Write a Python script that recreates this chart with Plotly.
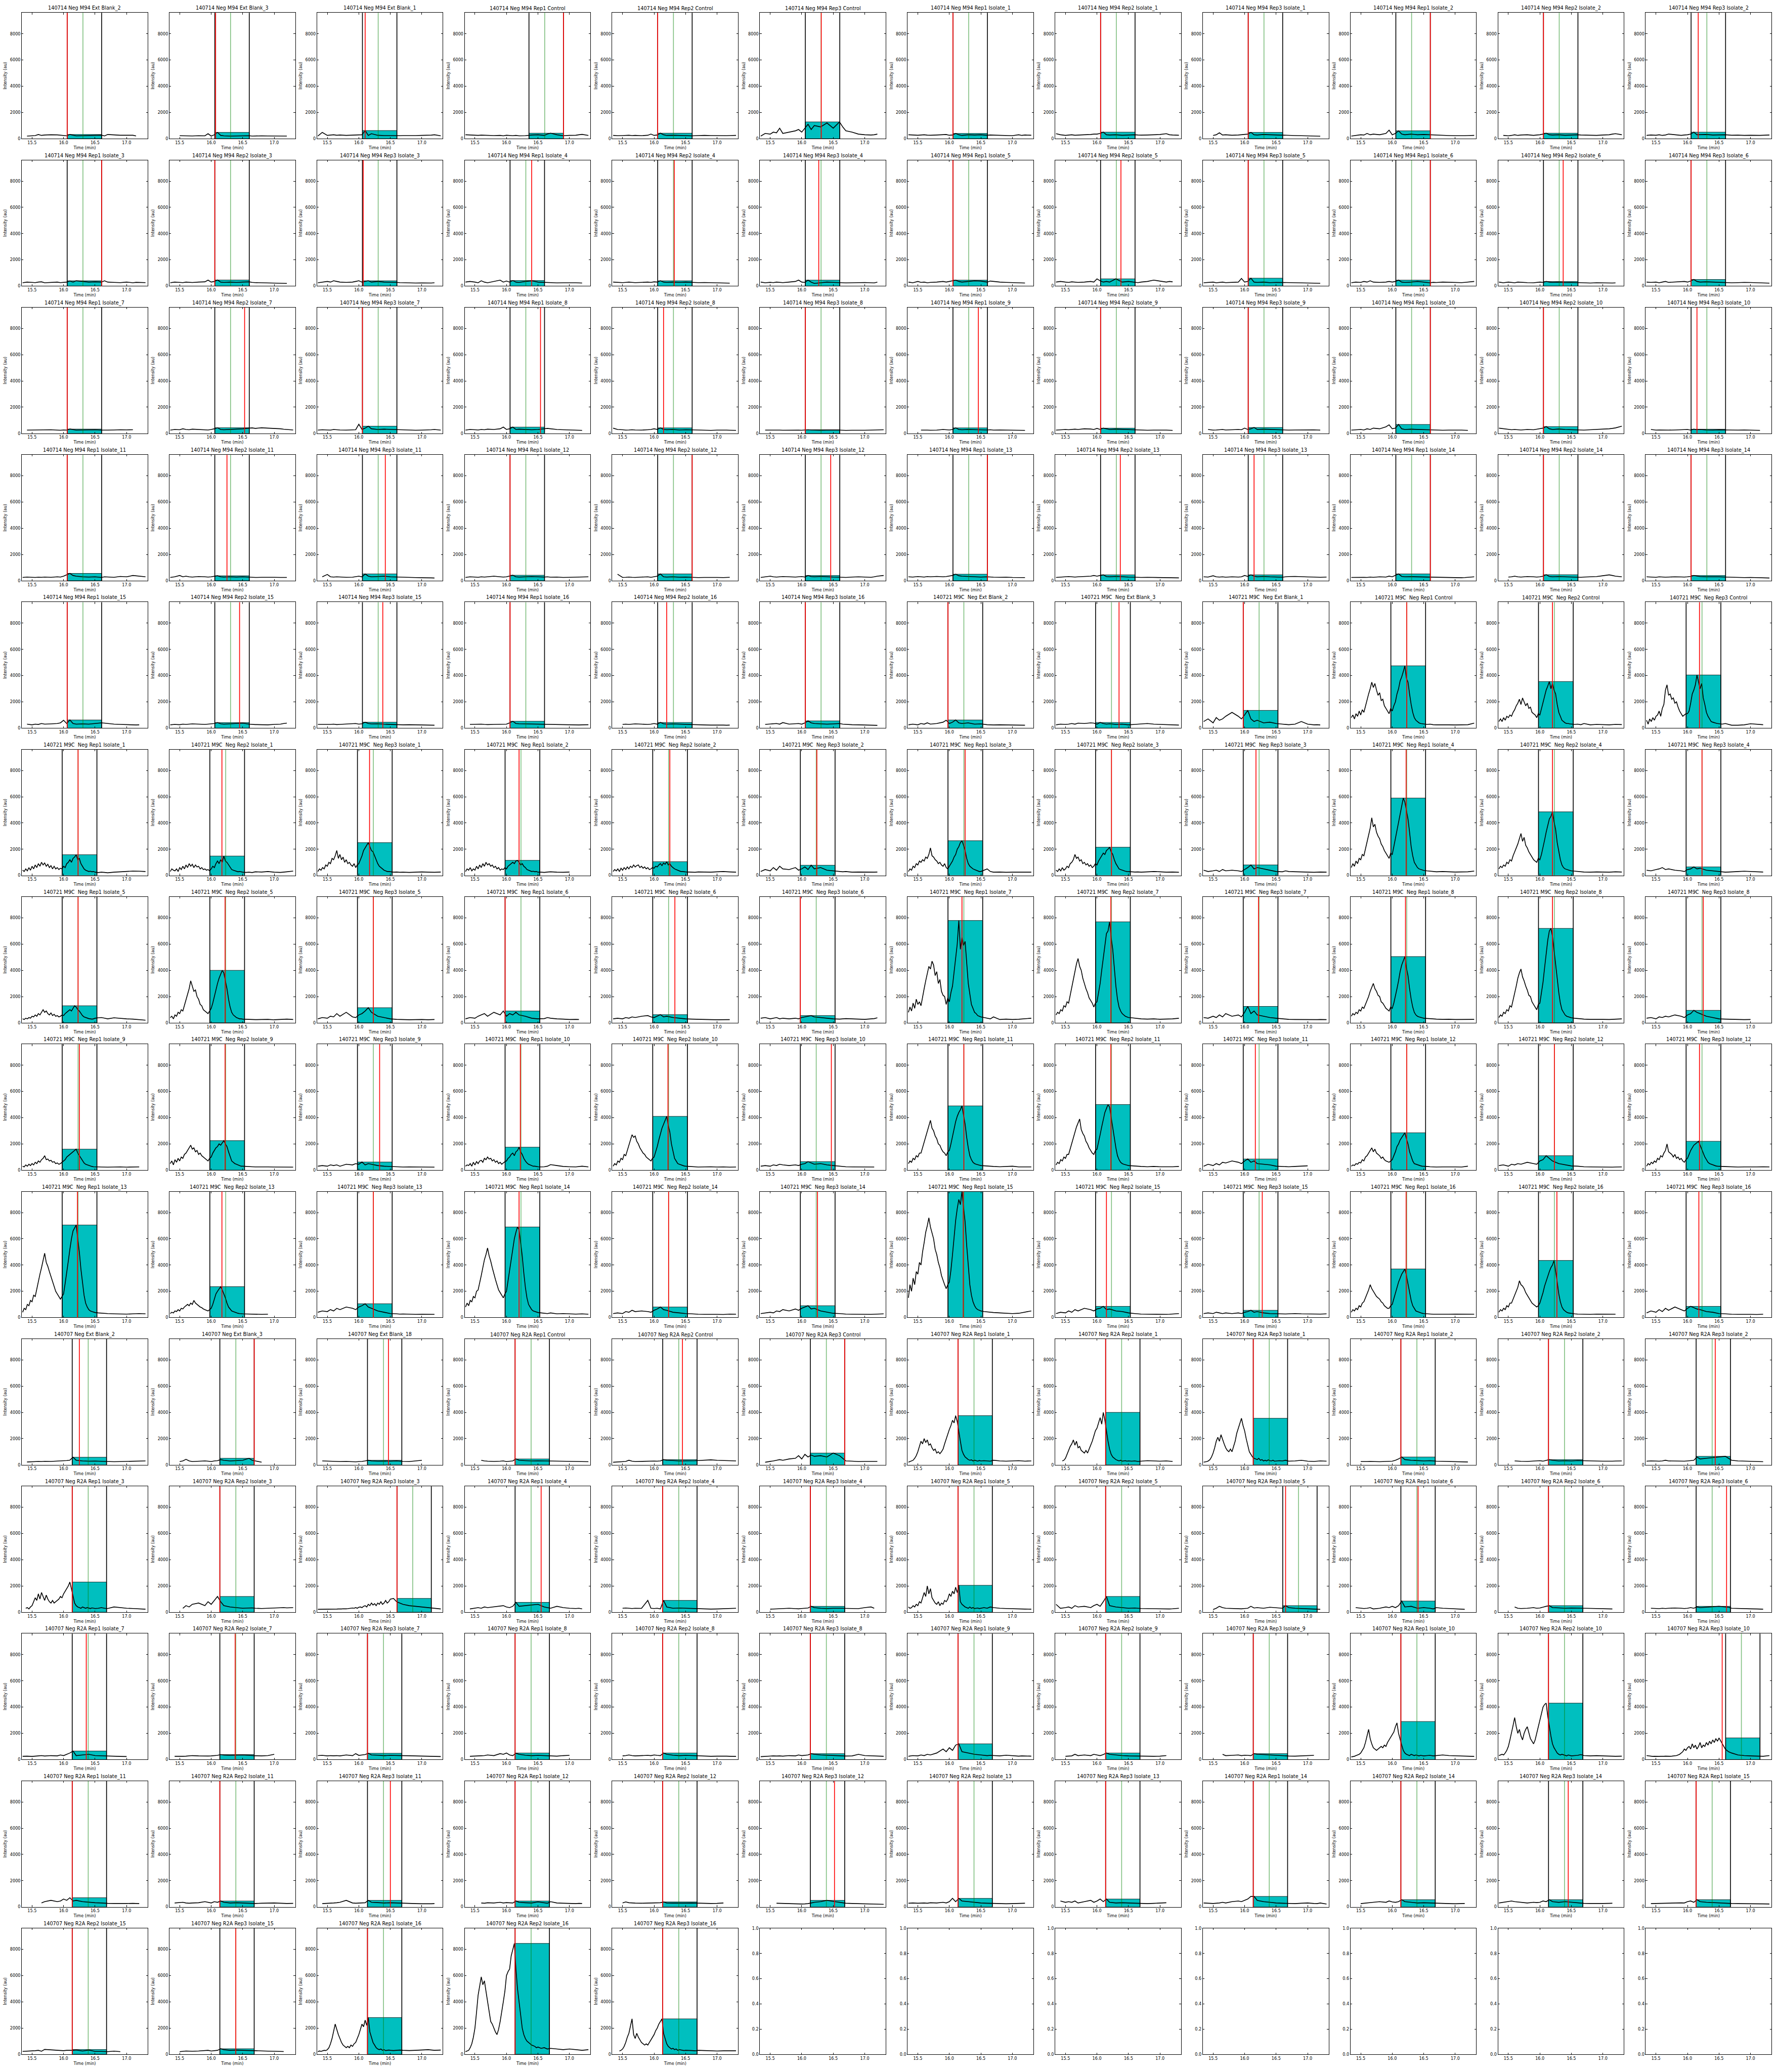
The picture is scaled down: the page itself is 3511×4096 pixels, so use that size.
import plotly.graph_objects as go

# ---------------- sampling grids of the chromatograms (min) ----------------
T_F = [15.35, 15.42, 15.5, 15.55, 15.6, 15.65, 15.7, 15.8, 15.9, 15.95, 16.0, 16.05, 16.1, 16.15,
       16.2, 16.3, 16.4, 16.5, 16.6, 16.65, 16.7, 16.8, 16.9, 17.0, 17.1, 17.15, 17.2, 17.3]
T_D = [15.35, 15.375, 15.4, 15.425, 15.45, 15.475, 15.5, 15.525, 15.55, 15.575,
       15.6, 15.625, 15.65, 15.675, 15.7, 15.725, 15.75, 15.775, 15.8, 15.825,
       15.85, 15.875, 15.9, 15.925, 15.95, 15.975, 16.0, 16.025, 16.05, 16.075,
       16.1, 16.125, 16.15, 16.175, 16.2, 16.225, 16.25, 16.275, 16.3, 16.325,
       16.35, 16.375, 16.4, 16.425, 16.45, 16.475, 16.5,
       16.55, 16.6, 16.65, 16.7, 16.8, 16.9, 17.0, 17.1, 17.2, 17.3]

# ---------------- titles ----------------
P94 = "140714 Neg M94 "
P9C = "140721 M9C\u00a0 Neg "
P2A = "140707 Neg "
m94_names = ["Ext Blank_2", "Ext Blank_3", "Ext Blank_1", "Rep1 Control", "Rep2 Control", "Rep3 Control",
             "Rep1 Isolate_1", "Rep2 Isolate_1", "Rep3 Isolate_1", "Rep1 Isolate_2", "Rep2 Isolate_2", "Rep3 Isolate_2",
             "Rep1 Isolate_3", "Rep2 Isolate_3", "Rep3 Isolate_3", "Rep1 Isolate_4", "Rep2 Isolate_4", "Rep3 Isolate_4",
             "Rep1 Isolate_5", "Rep2 Isolate_5", "Rep3 Isolate_5", "Rep1 Isolate_6", "Rep2 Isolate_6", "Rep3 Isolate_6",
             "Rep1 Isolate_7", "Rep2 Isolate_7", "Rep3 Isolate_7", "Rep1 Isolate_8", "Rep2 Isolate_8", "Rep3 Isolate_8",
             "Rep1 Isolate_9", "Rep2 Isolate_9", "Rep3 Isolate_9", "Rep1 Isolate_10", "Rep2 Isolate_10", "Rep3 Isolate_10",
             "Rep1 Isolate_11", "Rep2 Isolate_11", "Rep3 Isolate_11", "Rep1 Isolate_12", "Rep2 Isolate_12", "Rep3 Isolate_12",
             "Rep1 Isolate_13", "Rep2 Isolate_13", "Rep3 Isolate_13", "Rep1 Isolate_14", "Rep2 Isolate_14", "Rep3 Isolate_14",
             "Rep1 Isolate_15", "Rep2 Isolate_15", "Rep3 Isolate_15", "Rep1 Isolate_16", "Rep2 Isolate_16", "Rep3 Isolate_16"]
r2a_names = ["Ext Blank_2", "Ext Blank_3", "Ext Blank_18", "R2A Rep1 Control", "R2A Rep2 Control", "R2A Rep3 Control",
             "R2A Rep1 Isolate_1", "R2A Rep2 Isolate_1", "R2A Rep3 Isolate_1", "R2A Rep1 Isolate_2", "R2A Rep2 Isolate_2", "R2A Rep3 Isolate_2",
             "R2A Rep1 Isolate_3", "R2A Rep2 Isolate_3", "R2A Rep3 Isolate_3", "R2A Rep1 Isolate_4", "R2A Rep2 Isolate_4", "R2A Rep3 Isolate_4",
             "R2A Rep1 Isolate_5", "R2A Rep2 Isolate_5", "R2A Rep3 Isolate_5", "R2A Rep1 Isolate_6", "R2A Rep2 Isolate_6", "R2A Rep3 Isolate_6",
             "R2A Rep1 Isolate_7", "R2A Rep2 Isolate_7", "R2A Rep3 Isolate_7", "R2A Rep1 Isolate_8", "R2A Rep2 Isolate_8", "R2A Rep3 Isolate_8",
             "R2A Rep1 Isolate_9", "R2A Rep2 Isolate_9", "R2A Rep3 Isolate_9", "R2A Rep1 Isolate_10", "R2A Rep2 Isolate_10", "R2A Rep3 Isolate_10",
             "R2A Rep1 Isolate_11", "R2A Rep2 Isolate_11", "R2A Rep3 Isolate_11", "R2A Rep1 Isolate_12", "R2A Rep2 Isolate_12", "R2A Rep3 Isolate_12",
             "R2A Rep2 Isolate_13", "R2A Rep3 Isolate_13", "R2A Rep1 Isolate_14", "R2A Rep2 Isolate_14", "R2A Rep3 Isolate_14", "R2A Rep1 Isolate_15",
             "R2A Rep2 Isolate_15", "R2A Rep3 Isolate_15", "R2A Rep1 Isolate_16", "R2A Rep2 Isolate_16", "R2A Rep3 Isolate_16"]
titles = [P94 + n for n in m94_names] + [P9C + n for n in m94_names] + [P2A + n for n in r2a_names]

# ---------------- integration windows, markers, box heights (grid order) ----------------
win_left = [16.057, 16.057, 16.057, 16.357, 16.057, 16.057, 16.057, 16.057, 16.057, 16.057, 16.057, 16.057,
            16.057, 16.057, 16.057, 16.057, 16.057, 16.057, 16.057, 16.057, 16.057, 16.057, 16.057, 16.057,
            16.057, 16.057, 16.057, 16.057, 16.057, 16.057, 16.057, 16.057, 16.057, 16.057, 16.057, 16.057,
            16.057, 16.057, 16.057, 16.057, 16.057, 16.057, 16.057, 16.057, 16.057, 16.057, 16.057, 16.057,
            16.057, 16.057, 16.057, 16.057, 16.057, 16.057, 15.978, 15.978, 15.978, 15.978, 15.978, 15.978,
            15.978, 15.978, 15.978, 15.978, 15.978, 15.978, 15.978, 15.978, 15.978, 15.978, 15.978, 15.978,
            15.978, 15.978, 15.978, 15.978, 15.978, 15.978, 15.978, 15.978, 15.978, 15.978, 15.978, 15.978,
            15.978, 15.978, 15.978, 15.978, 15.978, 15.978, 15.978, 15.978, 15.978, 15.978, 15.978, 15.978,
            15.978, 15.978, 15.978, 15.978, 15.978, 15.978, 15.978, 15.978, 15.978, 15.978, 15.978, 15.978,
            16.137, 16.137, 16.137, 16.137, 16.137, 16.137, 16.137, 16.137, 16.137, 16.137, 16.137, 16.137,
            16.137, 16.137, 16.605, 16.137, 16.137, 16.137, 16.137, 16.137, 16.605, 16.137, 16.137, 16.137,
            16.137, 16.137, 16.137, 16.137, 16.137, 16.137, 16.137, 16.137, 16.137, 16.137, 16.137, 16.605,
            16.137, 16.137, 16.137, 16.137, 16.137, 16.137, 16.137, 16.137, 16.137, 16.137, 16.137, 16.137,
            16.137, 16.137, 16.137, 16.137, 16.137]
win_right = [16.604, 16.604, 16.604, 16.904, 16.604, 16.604, 16.604, 16.604, 16.604, 16.604, 16.604, 16.604,
             16.604, 16.604, 16.604, 16.604, 16.604, 16.604, 16.604, 16.604, 16.604, 16.604, 16.604, 16.604,
             16.604, 16.604, 16.604, 16.604, 16.604, 16.604, 16.604, 16.604, 16.604, 16.604, 16.604, 16.604,
             16.604, 16.604, 16.604, 16.604, 16.604, 16.604, 16.604, 16.604, 16.604, 16.604, 16.604, 16.604,
             16.604, 16.604, 16.604, 16.604, 16.604, 16.604, 16.529, 16.529, 16.529, 16.529, 16.529, 16.529,
             16.529, 16.529, 16.529, 16.529, 16.529, 16.529, 16.529, 16.529, 16.529, 16.529, 16.529, 16.529,
             16.529, 16.529, 16.529, 16.529, 16.529, 16.529, 16.529, 16.529, 16.529, 16.529, 16.529, 16.529,
             16.529, 16.529, 16.529, 16.529, 16.529, 16.529, 16.529, 16.529, 16.529, 16.529, 16.529, 16.529,
             16.529, 16.529, 16.529, 16.529, 16.529, 16.529, 16.529, 16.529, 16.529, 16.529, 16.529, 16.529,
             16.682, 16.682, 16.682, 16.682, 16.682, 16.682, 16.682, 16.682, 16.682, 16.682, 16.682, 16.682,
             16.682, 16.682, 17.15, 16.682, 16.682, 16.682, 16.682, 16.682, 17.15, 16.682, 16.682, 16.682,
             16.682, 16.682, 16.682, 16.682, 16.682, 16.682, 16.682, 16.682, 16.682, 16.682, 16.682, 17.15,
             16.682, 16.682, 16.682, 16.682, 16.682, 16.682, 16.682, 16.682, 16.682, 16.682, 16.682, 16.682,
             16.682, 16.682, 16.682, 16.682, 16.682]
green_t = [16.307, 16.307, 16.307, 16.607, 16.307, 16.307, 16.307, 16.307, 16.307, 16.307, 16.307, 16.307,
           16.307, 16.307, 16.307, 16.307, 16.307, 16.307, 16.307, 16.307, 16.307, 16.307, 16.307, 16.307,
           16.307, 16.307, 16.307, 16.307, 16.307, 16.307, 16.307, 16.307, 16.307, 16.307, 16.307, 16.307,
           16.307, 16.307, 16.307, 16.307, 16.307, 16.307, 16.307, 16.307, 16.307, 16.307, 16.307, 16.307,
           16.307, 16.307, 16.307, 16.307, 16.307, 16.307, 16.23, 16.23, 16.23, 16.23, 16.23, 16.23,
           16.23, 16.23, 16.23, 16.23, 16.23, 16.23, 16.23, 16.23, 16.23, 16.23, 16.23, 16.23,
           16.23, 16.23, 16.23, 16.23, 16.23, 16.23, 16.23, 16.23, 16.23, 16.23, 16.23, 16.23,
           16.23, 16.23, 16.23, 16.23, 16.23, 16.23, 16.23, 16.23, 16.23, 16.23, 16.23, 16.23,
           16.23, 16.23, 16.23, 16.23, 16.23, 16.23, 16.23, 16.23, 16.23, 16.23, 16.23, 16.23,
           16.391, 16.391, 16.391, 16.391, 16.391, 16.391, 16.391, 16.391, 16.391, 16.391, 16.391, 16.391,
           16.391, 16.391, 16.855, 16.391, 16.391, 16.391, 16.391, 16.391, 16.855, 16.391, 16.391, 16.391,
           16.391, 16.391, 16.391, 16.391, 16.391, 16.391, 16.391, 16.391, 16.391, 16.391, 16.391, 16.855,
           16.391, 16.391, 16.391, 16.391, 16.391, 16.391, 16.391, 16.391, 16.391, 16.391, 16.391, 16.391,
           16.391, 16.391, 16.391, 16.391, 16.391]
red_t = [16.057, 16.07, 16.10, 16.904, 16.057, 16.31, 16.057, 16.057, 16.057, 16.604, 16.057, 16.17,
         16.604, 16.057, 16.07, 16.40, 16.32, 16.27, 16.057, 16.38, 16.057, 16.604, 16.37, 16.057,
         16.057, 16.53, 16.057, 16.54, 16.15, 16.057, 16.46, 16.057, 16.057, 16.604, 16.057, 16.15,
         16.057, 16.25, 16.42, 16.057, 16.604, 16.46, 16.604, 16.37, 16.15, 16.604, 16.057, 16.057,
         16.057, 16.45, 16.38, 16.057, 16.20, 16.057, 15.978, 16.35, 15.978, 16.23, 16.20, 16.19,
         16.23, 16.17, 16.17, 16.20, 16.25, 16.24, 16.25, 16.23, 16.18, 16.22, 16.20, 16.23,
         16.23, 16.22, 16.23, 15.978, 16.33, 15.978, 16.20, 16.22, 16.22, 16.21, 16.20, 16.25,
         16.25, 16.22, 16.33, 16.22, 16.22, 16.47, 16.23, 16.22, 16.17, 16.23, 16.23, 16.19,
         16.22, 16.17, 16.23, 16.20, 16.23, 16.25, 16.22, 16.15, 16.28, 16.22, 16.27, 16.18,
         16.25, 16.682, 16.47, 16.137, 16.45, 16.682, 16.137, 16.137, 16.137, 16.137, 16.137, 16.44,
         16.137, 16.137, 16.605, 16.55, 16.137, 16.137, 16.137, 16.137, 16.65, 16.41, 16.137, 16.62,
         16.36, 16.38, 16.137, 16.137, 16.137, 16.137, 16.137, 16.137, 16.137, 16.137, 16.137, 16.55,
         16.137, 16.137, 16.50, 16.137, 16.137, 16.52, 16.137, 16.137, 16.137, 16.137, 16.45, 16.137,
         16.137, 16.39, 16.137, 16.137, 16.137]
box_h = [320, 480, 620, 420, 420, 1280, 400, 500, 480, 600, 420, 500,
         400, 460, 400, 420, 400, 450, 450, 550, 600, 450, 350, 500,
         330, 430, 550, 480, 420, 280, 420, 400, 450, 680, 520, 320,
         560, 380, 520, 420, 520, 400, 500, 450, 450, 520, 460, 400,
         620, 420, 450, 520, 430, 550, 620, 430, 1350, 4750, 3550, 4050,
         1580, 1480, 2500, 1150, 1050, 780, 2650, 2150, 800, 5900, 4850, 650,
         1300, 4000, 1150, 900, 620, 550, 7800, 7700, 1250, 5050, 7200, 950,
         1600, 2250, 620, 1750, 4100, 650, 4900, 5000, 850, 2850, 1100, 2200,
         7050, 2350, 1050, 6900, 800, 900, 9600, 850, 550, 3700, 4350, 850,
         580, 500, 350, 450, 400, 900, 3750, 4000, 3550, 600, 400, 650,
         2300, 1200, 1050, 750, 900, 450, 2050, 1200, 500, 850, 500, 450,
         650, 380, 480, 500, 500, 450, 1200, 500, 450, 2900, 4300, 1650,
         700, 450, 500, 450, 380, 500, 650, 600, 800, 550, 550, 550,
         360, 420, 2800, 8450, 2700]

# ---------------- intensities (au) ----------------
m94_traces = [
 ("F", [None,200,230,240,320,250,280,300,290,270,260,220,320,260,220,230,250,260,270,210,320,290,260,260,260,210,None,None]),
 ("F", [None,None,230,220,230,220,210,230,220,380,200,300,480,250,220,200,210,220,230,200,210,220,210,200,210,200,200,None]),
 ("F", [200,480,250,280,300,260,280,250,270,260,280,300,620,250,380,260,240,230,220,230,240,230,240,250,260,270,300,220]),
 ("F", [300,280,260,250,270,260,250,240,250,220,260,240,230,250,220,230,280,300,250,350,420,300,230,250,260,300,330,250]),
 ("F", [250,230,240,250,260,240,250,230,260,350,250,280,420,300,250,260,240,230,220,230,240,250,240,230,220,230,240,250]),
 ("F", [200,400,350,500,450,800,400,500,600,700,500,800,1100,700,1000,900,1200,800,1280,900,600,500,350,300,280,300,350,None]),
 ("F", [300,280,260,280,300,270,260,280,300,320,260,280,400,300,250,300,280,300,260,280,270,260,240,230,300,250,280,260]),
 ("F", [380,300,250,280,300,260,280,300,320,350,350,400,500,300,280,300,260,280,300,280,270,280,300,320,380,300,280,260]),
 ("F", [None,None,250,300,450,280,300,260,280,300,320,350,480,300,280,320,300,280,270,260,250,240,230,220,210,200,190,None]),
 ("F", [200,250,300,280,400,300,350,300,400,650,300,400,600,350,300,350,300,320,300,280,260,250,240,230,220,230,240,250]),
 ("F", [None,250,220,250,300,250,280,300,250,280,300,350,420,300,280,300,260,280,300,280,270,260,250,280,300,350,380,300]),
 ("F", [250,280,260,300,250,280,350,300,250,280,300,350,500,300,300,320,280,300,300,280,260,270,250,260,240,250,260,280]),
 ("F", [250,300,280,260,300,320,250,280,300,260,280,300,380,300,400,350,300,320,300,400,300,280,260,300,250,280,270,260]),
 ("F", [250,300,280,260,300,280,270,300,320,450,300,350,460,300,280,300,280,300,320,280,260,250,240,230,220,210,200,None]),
 ("F", [250,300,350,300,400,350,300,280,300,350,400,300,350,400,300,350,300,300,280,260,250,240,230,240,220,230,250,None]),
 ("F", [300,350,300,250,400,300,250,350,450,300,380,300,420,300,280,350,400,300,280,260,250,240,250,260,250,240,230,None]),
 ("F", [300,280,260,280,300,280,260,280,300,280,320,300,400,300,280,300,280,300,280,270,260,270,260,250,240,230,220,None]),
 ("F", [300,250,280,260,300,280,260,300,350,450,300,280,450,300,200,250,300,280,260,250,240,250,260,270,250,240,300,None]),
 ("F", [300,250,350,280,300,250,280,300,350,300,350,400,450,350,300,350,400,380,300,380,350,300,280,260,250,240,230,None]),
 ("F", [300,350,300,280,320,300,280,300,350,300,550,400,300,350,300,550,300,350,280,260,300,350,450,380,300,350,320,None]),
 ("F", [250,280,300,250,280,300,260,280,300,580,300,350,600,300,280,300,260,280,270,260,250,240,230,220,230,220,210,None]),
 ("F", [250,300,280,350,300,400,300,280,300,350,300,350,450,300,280,300,350,300,250,280,270,300,280,270,260,280,300,350]),
 ("F", [300,250,300,280,250,300,280,260,250,280,300,280,350,300,280,300,270,280,260,250,240,230,250,240,220,230,240,None]),
 ("F", [300,280,300,250,300,350,280,300,320,350,300,380,500,350,300,320,300,280,270,260,250,260,280,270,250,240,250,220]),
 ("F", [None,250,260,240,250,270,260,280,250,240,260,250,330,280,250,260,270,280,250,240,250,260,280,270,280,None,None,None]),
 ("F", [250,300,280,350,300,280,320,300,280,260,300,350,430,300,280,300,320,350,400,420,380,430,400,380,350,320,300,260]),
 ("F", [250,280,260,250,300,280,260,250,260,280,700,300,400,550,350,300,320,300,280,270,260,250,240,250,260,280,300,250]),
 ("F", [250,300,280,260,300,280,320,300,350,480,300,350,480,300,320,300,280,300,350,380,350,300,280,260,250,240,230,None]),
 ("F", [400,300,280,250,260,280,260,250,280,300,350,300,420,300,280,300,260,280,270,260,250,240,230,250,260,250,240,230]),
 ("F", [None,250,260,250,260,250,240,250,260,250,240,250,280,260,250,240,250,260,250,240,230,240,230,240,250,260,270,280]),
 ("F", [None,None,None,250,260,250,240,250,300,280,260,300,420,300,280,300,280,270,260,280,250,260,250,240,250,240,230,None]),
 ("F", [250,280,300,280,300,320,300,350,330,300,380,300,400,350,300,320,300,280,270,260,250,240,250,260,250,240,230,None]),
 ("F", [None,300,250,260,280,300,260,280,300,280,400,300,350,450,300,320,300,280,270,260,250,260,270,280,270,260,250,None]),
 ("F", [250,280,300,260,350,300,400,350,500,650,350,400,680,350,300,320,300,280,270,260,250,240,250,260,250,240,230,None]),
 ("F", [400,350,300,280,300,280,260,300,280,320,350,400,520,350,300,330,300,280,270,260,250,280,300,320,350,380,420,550]),
 ("F", [None,300,250,260,250,240,250,260,270,280,300,250,320,280,300,260,250,270,260,250,240,250,260,250,240,230,None,None]),
 ("F", [250,280,260,250,270,260,280,260,300,280,350,450,560,400,350,300,280,300,250,300,280,260,330,300,400,380,350,300]),
 ("F", [250,300,400,300,350,300,280,320,300,280,300,350,380,300,280,300,280,300,270,260,250,260,270,260,250,240,250,None]),
 ("F", [None,300,480,300,280,300,280,260,270,300,350,300,520,350,300,320,350,300,280,270,260,250,240,230,240,220,210,None]),
 ("F", [250,300,280,260,300,280,300,350,300,280,300,350,420,300,280,300,320,300,280,300,270,280,250,260,270,280,290,300]),
 ("F", [None,500,250,260,280,260,250,280,300,260,300,350,520,300,280,300,270,280,260,250,240,250,260,250,240,250,260,None]),
 ("F", [250,300,350,300,280,300,320,300,280,300,320,280,400,320,300,330,300,280,270,260,250,280,300,280,260,300,350,400]),
 ("F", [300,280,320,300,280,320,300,330,300,320,350,400,500,380,350,330,300,280,300,280,270,260,270,250,240,230,240,None]),
 ("F", [250,280,300,320,300,280,300,320,350,400,350,400,450,320,300,330,300,280,270,260,250,260,250,240,230,240,230,220]),
 ("F", [300,280,380,300,280,300,270,300,280,300,400,330,450,350,300,330,300,280,270,300,320,330,300,290,280,270,260,280]),
 ("F", [250,260,280,260,250,280,260,300,280,350,300,400,520,330,300,310,300,280,270,260,250,260,250,240,230,240,260,300]),
 ("F", [None,None,280,300,350,300,280,320,300,280,300,350,460,330,300,320,300,280,270,260,280,300,320,380,450,400,350,300]),
 ("F", [300,280,260,300,280,270,280,300,290,280,300,330,400,350,320,300,310,300,280,270,260,250,240,250,240,230,220,210]),
 ("F", [None,300,250,300,280,350,300,320,350,400,600,350,620,350,300,320,300,350,400,380,350,300,280,260,250,240,250,None]),
 ("F", [250,280,260,300,280,300,320,300,280,300,320,350,420,330,300,330,350,380,300,280,270,260,250,280,300,350,380,None]),
 ("F", [280,270,260,280,300,270,280,300,320,350,300,330,450,350,320,330,300,280,270,260,250,260,250,240,230,230,220,None]),
 ("F", [None,280,300,290,300,280,270,280,290,280,300,400,520,350,330,320,310,300,290,280,270,260,260,250,250,240,250,260]),
 ("F", [None,None,280,300,280,300,320,300,280,300,350,300,430,330,300,320,300,280,270,260,250,240,230,240,230,220,230,None]),
 ("F", [None,280,300,320,350,300,420,300,320,350,300,400,550,400,350,330,300,320,350,300,280,260,250,240,230,220,210,None]),
]

m9c_traces = [
 ("F", [250,300,250,350,300,400,300,350,450,600,350,450,620,400,350,400,300,320,260,250,240,250,240,250,240,230,220,None]),
 ("F", [250,300,280,300,350,300,380,350,400,380,300,430,350,300,330,280,300,250,280,300,320,350,300,280,260,250,240,230]),
 ("F", [500,700,400,800,600,700,900,1200,900,700,1000,1350,700,500,600,400,450,350,300,280,260,300,500,300,250,260,240,None]),
 ("D", [800,1000,700,1100,900,1300,1000,1400,1200,1700, 2100,2600,3000,3500,3100,3400,2900,2500,2700,2100,
        2200,1700,1500,1300,1100,1500,1300,1700,2000,2600, 3000,3600,3900,4300,4750,3800,3500,2600,1800,1200,
        800,600,500,400,350,330,300, 280,300,260,250,260,250,240,250,260,380]),
 ("D", [500,700,500,800,600,900,800,1000,900,1200, 1400,1700,1900,2200,1800,2300,2000,1700,1900,1500,
        1600,1200,1100,1000,800,1100,1000,1500,1900,2500, 2900,3200,3550,3000,3400,2900,2600,1800,1200,900,
        600,500,400,350,350,320,300, 280,300,260,350,250,280,260,250,280,270]),
 ("D", [600,300,700,500,800,600,900,1000,1300,900, 1500,1800,2900,3300,2500,2600,2200,2300,1900,2000,
        1600,1300,1100,900,1000,1100,1100,1300,1900,2600, 2900,3300,4050,3500,3000,3400,2300,1800,1200,900,
        700,500,450,400,380,350,330, 300,350,280,220,220,250,330,300,260,None]),
 ("D", [400,300,500,350,600,400,700,500,800,600, 900,700,1000,800,950,700,850,600,750,500,
        700,500,600,450,550,500,700,600,900,1000, 1200,1000,1300,1400,1580,1200,1300,900,700,500,
        400,350,300,320,280,300,250, 220,250,230,200,250,280,300,330,320,300]),
 ("D", [300,500,400,350,500,300,600,450,700,500, 800,600,900,700,850,600,800,650,700,500,
        600,450,500,400,450,350,500,700,600,900, 1100,900,1200,1000,1480,1100,1000,800,650,450,
        400,350,300,280,300,260,250, 230,250,220,280,260,300,250,230,280,330]),
 ("D", [300,500,400,600,500,800,700,1000,900,1300, 1200,1500,1900,1300,1600,1200,1400,1000,1200,900,
        1000,800,700,900,600,800,900,1200,1500,1900, 2100,2300,2500,2200,1900,1800,1500,1200,900,700,
        600,500,400,350,300,300,280, 250,260,240,250,230,250,270,250,240,260]),
 ("D", [300,500,400,600,350,500,400,700,500,800, 600,900,700,1000,800,900,700,800,600,700,
        500,600,400,500,450,600,500,700,800,900, 1000,900,1100,1150,1000,800,900,700,600,450,
        400,350,300,320,280,300,250, 250,230,260,280,250,240,260,None,None,None]),
 ("D", [300,450,350,500,300,550,400,600,450,650, 500,700,600,800,650,750,800,600,700,550,
        650,500,600,450,500,600,550,700,650,800, 900,750,950,850,1050,800,900,700,600,500,
        450,400,350,300,300,280,270, 260,250,240,270,260,250,280,300,270,250]),
 ("F", [300,450,350,600,400,700,500,450,600,400,500,650,450,780,500,600,400,350,300,280,300,250,260,250,240,250,260,None]),
 ("D", [300,500,400,700,600,900,800,1100,1000,1200, 1100,1400,1300,1600,2100,1500,1400,1200,1100,900,
        1000,800,700,900,600,500,700,900,1100,1400, 1600,2000,2200,2500,2650,2300,1900,1300,900,700,
        600,500,450,400,350,300,300, 400,500,300,250,260,240,250,250,240,250]),
 ("D", [400,300,500,350,600,400,500,700,600,900, 1000,1200,1600,1300,1400,1100,1200,900,1000,800,
        900,700,800,600,700,900,800,1100,1300,1500, 1700,1600,1900,2000,2150,1800,1600,1200,900,700,
        500,450,400,350,320,300,300, 280,260,270,250,280,300,280,250,260,240]),
 ("F", [400,300,350,400,300,450,350,400,350,300,450,600,800,500,600,500,400,300,280,350,300,280,260,250,240,250,260,250]),
 ("D", [600,900,700,1100,900,1300,1200,1600,1500,2000, 2500,3000,3600,4400,3700,3900,3300,3000,2800,2400,
        2200,1900,1700,1500,1300,1700,1600,2200,2800,3400, 4000,4700,5300,5900,5600,5000,4300,3300,2200,1500,
        1000,800,600,500,450,400,380, 350,330,300,280,300,280,260,270,280,330]),
 ("D", [500,700,600,800,700,1000,900,1200,1100,1500, 1800,2100,2400,2800,3200,2600,2900,2300,2100,1800,
        1600,1400,1200,1100,1000,1300,1200,1600,2100,2700, 3300,3800,4300,4500,4850,4100,3500,2500,1800,1200,
        800,600,500,450,400,380,350, 330,300,280,260,250,270,260,250,280,260]),
 ("F", [400,350,450,500,600,450,500,400,350,300,450,500,650,500,550,400,350,300,250,260,280,300,320,300,280,270,260,None]),
 ("D", [300,250,350,300,400,350,500,450,600,500, 700,600,800,1000,800,900,700,600,750,550,
        650,500,550,450,500,600,550,700,800,900, 1000,900,1100,1300,1200,1000,900,700,550,450,
        400,350,320,300,280,300,350, 380,400,350,300,380,330,300,280,250,200]),
 ("D", [400,500,300,600,500,800,700,1000,900,1300, 1700,2200,2600,3200,2800,2400,2500,2000,1800,1400,
        1300,1000,900,800,700,900,1100,1500,2000,2600, 3000,3400,3700,4000,3800,3200,2600,1800,1200,800,
        600,500,400,350,300,300,280, 270,260,250,240,250,260,230,250,280,250]),
 ("F", [300,400,350,500,450,700,500,800,450,400,600,700,900,1150,800,500,400,300,260,250,240,230,240,250,230,240,250,None]),
 ("F", [300,400,350,500,600,700,500,800,600,900,500,700,600,800,600,500,350,300,320,400,350,300,280,250,260,250,None,None]),
 ("F", [300,350,300,400,350,450,400,500,550,450,400,500,620,450,500,400,350,300,280,270,260,250,240,230,240,250,240,None]),
 ("F", [350,400,300,350,400,300,350,300,350,300,400,450,500,550,450,400,350,300,280,300,320,300,280,260,300,320,380,None]),
 ("D", [800,1200,900,1500,1100,1800,1400,1600,1300,2000, 2600,3200,3800,4300,4100,4700,4400,3600,3900,3000,
        3300,2400,2100,2000,1400,1900,1600,2300,2800,3800, 4800,6000,7800,5600,6500,5900,6200,4600,3000,2200,
        1400,1100,800,700,550,500,450, 400,350,300,450,250,280,250,270,300,350]),
 ("D", [600,800,700,1000,900,1300,1200,1600,1500,2100, 2700,3300,4000,4500,4900,4300,4000,3400,3000,2600,
        2300,1900,1700,1500,1200,1500,1600,2300,3000,4000, 5000,6000,6800,7000,7700,6500,5600,4200,2800,1800,
        1200,900,700,600,500,450,400, 380,350,320,300,280,300,270,280,300,350]),
 ("F", [400,350,500,400,600,450,700,500,600,450,800,1250,700,900,600,500,400,350,300,280,260,250,240,250,230,240,250,240]),
 ("D", [500,700,600,800,700,1000,900,1200,1100,1400, 1700,2000,2400,2700,3000,2600,2400,2100,2000,1600,
        1500,1300,1100,1000,900,1200,1100,1500,2000,2600, 3200,3900,4400,4700,5050,4200,3600,2600,1800,1200,
        800,600,500,450,400,380,350, 330,300,300,280,260,270,250,260,250,260]),
 ("D", [400,600,500,800,700,1000,900,1300,1200,1700, 2200,2800,3400,3800,4100,3500,3200,2800,2500,2100,
        2000,1600,1400,1200,1000,1400,1500,2300,3100,4200, 5200,6300,7000,7200,6600,5600,4600,3400,2300,1500,
        1000,800,600,500,450,400,380, 350,320,300,280,260,270,260,250,270,300]),
 ("F", [350,400,300,450,400,500,450,600,500,400,600,700,950,800,700,500,400,300,280,270,260,250,240,250,None,None,None,None]),
 ("D", [300,250,400,300,450,350,500,400,600,500, 700,600,800,900,1100,800,850,700,750,600,
        650,500,550,450,500,600,700,800,1000,1100, 1200,1300,1400,1500,1600,1300,1100,900,700,550,
        450,400,350,300,280,260,250, 250,240,230,230,240,250,230,240,250,None]),
 ("D", [500,700,400,800,600,900,700,1000,900,1200, 1300,1500,1700,1900,1600,1700,1400,1500,1200,1300,
        1100,1000,900,800,700,900,1000,1300,1500,1700, 1800,2000,1900,2100,2250,2000,1800,1400,1000,700,
        600,500,450,400,350,300,300, 280,270,260,250,260,250,240,230,240,230]),
 ("F", [300,350,300,400,350,400,300,450,400,500,450,620,400,500,450,350,300,280,260,250,240,250,240,230,240,230,230,None]),
 ("D", [300,400,350,500,300,600,400,650,500,700, 750,600,900,800,1000,850,900,700,800,600,
        700,500,600,450,550,650,700,900,1000,1200, 1300,1100,1400,1500,1750,1400,1200,900,700,550,
        450,400,350,300,300,280,260, 250,260,300,420,350,280,260,250,300,250]),
 ("D", [300,500,400,700,600,900,800,1200,1100,1500, 1900,2300,2700,2500,2600,2200,2000,1700,1500,1300,
        1200,1000,900,800,700,900,1000,1400,1800,2300, 2800,3200,3500,3800,4100,3400,2900,2000,1400,900,
        700,500,450,400,350,320,300, 280,260,250,240,250,260,240,250,230,240]),
 ("F", [300,350,300,400,350,450,400,350,400,350,450,500,650,550,450,500,400,350,300,280,260,250,240,250,230,240,None,None]),
 ("D", [500,700,600,900,800,1100,1000,1300,1300,1700, 2100,2600,3000,3400,3800,3200,3000,2600,2400,2000,
        1900,1600,1400,1300,1100,1400,1500,2000,2600,3200, 3700,4100,4400,4600,4900,4200,3500,2500,1700,1100,
        800,600,500,450,400,380,350, 330,300,280,280,260,280,300,250,260,250]),
 ("D", [400,600,500,800,700,1000,900,1200,1200,1600, 2000,2400,2900,3300,3600,3900,3100,2800,2600,2200,
        2000,1700,1500,1300,1200,1500,1600,2100,2700,3300, 3900,4400,4700,5000,4800,4000,3300,2400,1700,1100,
        800,600,500,450,400,380,350, 330,300,300,280,260,280,260,250,260,280]),
 ("F", [300,450,350,500,400,600,550,700,600,500,700,850,600,700,500,450,400,300,280,270,260,280,300,330,None,None,None,None]),
 ("D", [300,400,350,500,450,600,550,800,700,1000, 1100,1300,1500,1700,1400,1600,1300,1200,1100,900,
        1000,800,700,650,600,700,800,1100,1400,1800, 2000,2300,2500,2700,2850,2400,2000,1400,1000,700,
        500,450,400,350,330,300,300, 280,260,250,240,250,260,250,240,300,None]),
 ("F", [350,400,300,450,400,500,450,600,500,450,700,800,1100,900,700,500,400,320,300,280,260,250,240,250,240,230,240,250]),
 ("D", [300,500,400,600,500,700,600,900,800,1100, 1000,1300,1500,2000,1400,1300,1200,1000,1200,900,
        1000,800,900,700,600,800,900,1200,1500,1700, 1900,2000,2100,2200,1900,1600,1300,1000,800,600,
        500,450,400,350,320,300,300, 280,270,260,250,240,250,240,250,260,250]),
 ("D", [400,700,600,1000,900,1300,1200,1700,1600,2200, 2700,3300,3800,4300,4900,4200,3900,3500,3100,2700,
        2400,2000,1800,1600,1400,1600,1800,2600,3400,4300, 5200,6000,6600,6800,7050,6000,5000,3700,2600,1700,
        1100,800,600,500,450,400,380, 350,330,300,300,280,270,260,280,300,280]),
 ("D", [300,400,350,500,450,600,500,700,650,800, 900,1000,900,1100,1000,1300,1100,1000,900,800,
        750,650,600,550,500,600,700,1000,1400,1800, 2000,2200,2350,2100,1800,1500,1100,800,650,500,
        450,400,350,320,300,300,280, 270,260,250,260,240,250,None,None,None,None]),
 ("F", [400,500,450,600,500,700,600,800,700,600,800,900,1050,800,700,500,400,300,280,260,270,250,240,250,240,230,240,None]),
 ("D", [800,1100,900,1300,1200,1600,1500,2000,2100,2600, 3200,3800,4400,4800,5300,4700,4300,3800,3300,2900,
        2500,2100,1900,1700,1500,1800,2000,2800,3600,4500, 5300,6000,6500,6900,6700,5800,4700,3400,2300,1500,
        1000,800,600,500,450,400,380, 350,330,300,350,280,300,270,260,280,250]),
 ("F", [300,350,300,450,400,550,450,500,450,400,550,650,800,600,550,400,350,300,280,260,250,240,250,240,230,250,260,250]),
 ("F", [300,350,400,350,500,450,600,500,650,550,700,800,900,650,700,500,400,320,300,280,260,250,240,250,240,250,260,280]),
 ("D", [1500,2500,2000,3000,2500,3500,3300,4200,4000,5000, 5700,6500,7000,7600,6900,6500,6000,5200,4800,4200,
        3800,3200,2800,2500,2200,2500,2700,3600,4800,6200, 7400,8300,9000,8600,9600,8400,7300,5500,3800,2500,
        1700,1200,900,700,600,550,500, 450,420,400,380,350,330,300,320,400,500]),
 ("F", [300,400,350,500,400,600,500,700,600,500,650,700,850,600,650,500,450,350,300,280,260,250,240,230,240,250,260,300]),
 ("F", [300,350,300,400,350,300,350,300,350,300,400,450,550,400,450,350,300,280,260,270,280,300,280,270,260,250,260,280]),
 ("D", [400,600,500,700,600,900,800,1100,1200,1500, 1800,2100,2500,2200,2000,1800,1600,1500,1400,1200,
        1100,900,800,700,700,900,1000,1400,1800,2300, 2700,3000,3300,3500,3700,3200,2600,1900,1300,900,
        700,500,450,400,350,320,300, 280,260,250,250,240,250,260,250,240,250]),
 ("D", [400,600,500,700,600,900,800,1100,1100,1400, 1700,2000,2300,2800,2500,2400,2200,1900,1700,1500,
        1300,1100,1000,900,800,900,1100,1500,1900,2400, 2800,3200,3500,3800,4000,4350,3600,2700,1800,1200,
        800,600,500,400,350,330,300, 280,260,250,250,240,260,250,240,250,None]),
 ("F", [350,500,400,600,450,700,550,800,600,500,700,850,750,650,600,450,400,300,280,260,250,240,250,240,230,240,250,None]),
]

r2a_traces = [
 ("F", [None,220,250,240,260,250,270,260,280,290,300,330,360,580,350,300,280,290,270,260,250,240,250,260,270,280,290,300]),
 ("F", [None,None,250,300,420,300,250,280,300,280,250,300,320,400,350,300,320,350,500,350,300,200,None,None,None,None,None,None]),
 ("F", [None,300,280,260,270,260,250,260,240,230,250,260,300,350,300,280,290,280,300,280,260,250,300,350,None,None,None,None]),
 ("F", [None,None,None,None,350,300,280,260,280,300,250,280,300,450,350,320,300,310,300,280,290,280,270,260,250,240,230,240]),
 ("F", [200,220,250,260,350,280,250,260,280,300,290,280,300,400,350,330,300,310,300,320,330,360,380,350,330,320,310,300]),
 ("F", [None,200,250,300,350,400,350,450,500,700,450,800,600,750,650,700,600,900,700,500,300,280,250,260,250,270,260,None]),
 ("D", [200,250,300,350,500,700,1000,1400,1800,1600, 2000,1700,1900,1500,1600,1300,1100,1200,900,1000,
        850,1000,1200,1600,2000,2300,2700,3000,3400,3200, 3750,3300,2500,1800,1100,800,600,500,400,350,
        380,300,350,320,280,330,300, 320,300,280,350,300,280,300,320,280,300]),
 ("D", [None,None,None,None,300,350,500,800,1100,1400, 1600,1900,1500,1800,1300,1400,1100,1000,900,1100,
        900,1200,1500,1800,2200,2600,2800,3200,3600,3100, 4000,3400,2600,1800,1200,800,600,500,400,350,
        300,350,280,300,320,280,300, 280,300,260,280,320,300,280,300,260,None]),
 ("D", [200,220,250,300,400,600,900,1300,1800,2100, 1800,2300,1900,1600,1300,1100,1000,1200,1000,1400,
        1800,2400,2800,3100,3550,3000,2600,2000,1500,1000, 800,600,500,450,400,500,350,400,300,350,
        300,380,320,300,350,280,300, 320,300,350,280,300,350,280,260,300,280]),
 ("F", [None,None,250,240,250,260,250,240,260,270,280,350,450,600,400,350,330,300,320,300,280,270,260,250,240,230,220,None]),
 ("F", [None,None,None,None,300,280,270,260,280,300,320,280,330,400,350,300,320,300,330,320,310,300,290,280,270,280,290,300]),
 ("F", [280,300,290,280,300,350,300,290,300,280,300,320,350,600,450,500,550,600,650,500,350,300,280,270,260,250,240,None]),
 ("D", [None,None,300,350,250,400,500,800,1100,900, 1400,1000,1500,1200,900,1300,1000,800,700,900,
        700,800,900,1000,1200,1100,1400,1600,1800,2000, 2300,1800,1200,700,500,400,350,300,400,350,
        300,350,300,280,330,300,280, 300,350,300,280,400,350,300,280,250,230]),
 ("F", [None,None,None,300,500,400,600,700,500,800,600,900,1200,800,500,400,350,300,320,330,300,280,300,320,340,350,330,350]),
 ("D", [220,220,230,220,230,220,230,220,230,230, 240,230,240,250,240,250,260,250,260,270,
        280,300,320,300,350,300,380,400,350,450, 500,400,600,500,700,550,650,500,700,600,
        800,600,700,900,700,800,1000, 1050,800,700,600,500,450,400,350,300,250]),
 ("F", [None,250,300,350,300,400,350,400,450,500,400,350,450,750,450,500,550,600,400,350,300,450,350,300,280,300,250,None]),
 ("F", [None,None,300,320,300,280,300,290,900,300,280,300,250,900,400,300,320,300,280,270,260,250,240,250,260,270,280,300]),
 ("F", [None,None,230,240,260,250,280,300,270,260,280,300,320,450,350,300,280,300,310,300,290,280,270,350,400,300,None,None]),
 ("D", [400,300,350,500,400,600,500,800,700,1100, 1500,1200,2000,1400,1800,1100,900,700,600,800,
        500,700,600,900,800,1000,1400,1200,1600,1400, 1900,1500,2050,800,600,500,400,350,300,400,
        300,350,280,300,320,280,300, 350,300,400,350,300,280,260,250,240,230]),
 ("F", [600,300,350,400,300,500,400,450,350,500,600,450,800,1200,500,400,350,300,320,300,280,270,260,250,240,250,260,300]),
 ("F", [None,None,200,300,450,350,300,280,250,260,280,300,450,320,350,300,380,350,300,500,350,300,280,250,240,230,220,None]),
 ("F", [None,350,300,280,300,350,250,300,400,350,450,350,500,850,400,450,300,350,300,250,350,300,280,250,240,220,None,None]),
 ("F", [None,None,None,None,400,300,280,300,350,300,320,400,450,500,350,330,300,320,300,310,300,290,280,270,260,250,None,None]),
 ("F", [None,300,280,270,300,280,300,320,300,280,300,350,300,400,350,380,400,450,400,380,300,280,270,260,250,240,230,None]),
 ("F", [250,260,240,250,280,300,270,300,280,350,300,400,500,650,300,350,400,300,280,270,260,250,240,230,None,None,None,None]),
 ("F", [None,250,240,250,260,270,300,280,260,270,280,300,320,380,340,320,330,350,320,300,290,280,300,400,None,None,None,None]),
 ("F", [300,320,280,300,290,300,280,350,300,450,320,350,380,480,350,330,300,320,300,310,300,290,280,270,260,250,240,230]),
 ("F", [None,250,280,300,290,300,350,300,450,400,500,350,300,480,400,330,300,320,300,280,270,260,300,320,None,None,None,None]),
 ("F", [None,None,280,300,350,300,280,300,320,300,350,320,300,500,400,330,300,320,300,280,270,260,250,260,270,260,250,240]),
 ("F", [220,250,260,280,270,280,260,300,280,350,300,320,350,450,400,350,330,320,300,280,270,280,400,300,280,270,260,250]),
 ("F", [250,300,280,350,300,400,350,500,800,600,900,700,1100,1200,600,500,400,350,300,320,300,280,330,300,260,280,270,260]),
 ("F", [None,None,250,260,280,400,300,350,300,400,350,300,380,500,400,350,300,280,270,260,250,240,250,260,300,None,None,None]),
 ("F", [None,None,None,None,None,400,300,320,350,300,330,320,300,450,400,380,350,320,300,280,270,260,280,300,320,None,None,None]),
 ("D", [200,220,250,300,350,400,500,700,900,1300, 1800,2300,1600,1200,900,800,700,800,900,1000,
        900,1100,1000,1300,1500,1700,1900,2100,2500,2800, 2000,1500,1100,700,500,400,350,300,400,350,
        300,350,300,280,320,300,280, 300,320,280,300,350,300,280,260,250,240]),
 ("D", [300,350,400,350,500,700,1000,1500,2000,2600, 3200,2500,2000,2300,1800,1500,2000,2300,2500,2000,
        1600,1400,1200,1500,2000,2500,3000,3500,4000,4200, 4300,3300,2500,1800,1200,900,700,500,400,350,
        400,350,300,280,350,300,280, 300,320,380,300,280,300,280,260,250,260]),
 ("D", [300,280,260,250,240,250,240,230,240,250, 240,250,260,250,240,250,260,270,280,300,
        350,400,500,600,800,700,900,1000,800,1200, 900,1100,800,1000,1300,900,1100,1000,1300,1100,
        1400,1200,1500,1300,1600,1400,1650, 1200,800,600,500,350,300,280,260,250,300]),
 ("F", [None,None,None,None,None,300,400,500,400,450,600,500,700,450,500,400,350,320,300,280,270,260,250,260,270,260,250,None]),
 ("F", [None,300,320,350,300,280,300,320,400,350,300,400,350,450,350,300,320,300,280,270,260,280,290,300,280,270,260,270]),
 ("F", [None,250,260,280,300,320,350,500,300,280,290,300,320,500,350,330,300,320,300,280,270,260,250,240,230,240,250,None]),
 ("F", [None,None,None,None,300,280,320,300,350,300,330,320,300,450,350,320,300,380,300,280,400,300,280,260,250,270,260,None]),
 ("F", [None,None,300,380,320,300,290,280,300,290,300,310,320,380,300,290,280,290,300,290,280,270,260,270,300,None,None,None]),
 ("F", [None,None,None,None,280,270,260,250,240,230,220,230,250,300,350,400,500,420,350,300,280,260,250,240,230,220,210,200]),
 ("F", [280,300,280,290,300,280,320,300,350,300,400,650,400,650,450,400,350,300,280,270,260,250,240,250,260,270,280,None]),
 ("F", [None,450,350,400,350,450,300,400,500,350,450,600,400,600,350,300,320,300,280,270,260,250,270,300,320,None,None,None]),
 ("F", [300,280,260,280,300,350,300,400,450,400,500,600,800,800,500,400,350,300,280,270,260,250,280,300,260,250,300,220]),
 ("F", [None,None,250,280,300,320,350,400,350,450,380,350,400,550,400,350,300,320,300,280,270,260,250,240,250,260,None,None]),
 ("F", [300,350,400,450,400,380,350,300,350,330,350,450,400,550,400,350,400,350,300,280,270,260,250,260,270,280,None,None]),
 ("F", [None,250,260,270,280,300,290,300,310,300,400,450,350,550,400,350,320,300,280,270,260,250,250,240,240,230,230,220]),
 ("F", [220,230,250,270,300,230,370,340,300,280,270,300,290,300,330,250,320,220,220,210,200,240,200,None,None,None,None,None]),
 ("F", [None,None,200,220,250,240,230,250,280,300,250,280,300,420,350,300,320,300,280,270,260,250,240,230,220,210,None,None]),
 ("D", [200,250,220,250,300,280,350,500,800,1200, 1800,2300,1900,1500,1200,900,700,600,500,600,
        500,700,600,800,900,1200,1500,1900,2300,2100, 2600,2200,2800,1700,1300,900,700,500,400,350,
        400,300,350,280,300,320,300, 280,300,320,300,280,300,320,350,300,320]),
 ("D", [200,250,300,500,800,1300,2000,3200,4500,5200, 5900,5300,5600,4800,4000,3200,2500,2300,2000,1700,
        1500,1900,2500,3200,4000,4800,6000,6300,6500,7500, 8000,8450,6500,5000,4000,3000,2000,1500,1200,1000,
        900,800,700,650,600,500,550, 450,500,400,450,400,350,400,350,300,350]),
 ("D", [None,None,None,None,250,300,400,600,900,1300, 1600,2200,2700,1500,1200,1600,1300,1100,900,800,
        700,800,700,900,1100,1300,1500,1800,2000,2300, 2500,2700,1600,1200,800,600,500,400,450,350,
        400,300,350,320,300,280,300, 300,280,260,300,280,260,250,260,270,260]),
]

traces = m94_traces + m9c_traces + r2a_traces

# ---------------- geometry (reference pixel grid 4320 x 5040) ----------------
S = 0.812
FW, FH = 4320.0, 5040.0
NCOL, NROW = 12, 14
X_RANGE = [15.337, 17.333]
Y_MAX = 9600
FONT = "DejaVu Sans"
LW = 2 * S

fig = go.Figure()
layout = dict(width=3511, height=4096, autosize=False,
              margin=dict(l=0, r=0, t=0, b=0, pad=0),
              paper_bgcolor="white", plot_bgcolor="white", showlegend=False,
              font=dict(family=FONT, color="black", size=10 * S))
shapes = []
annotations = []

def fit(vals, grid):
    vals = list(vals) + [None] * len(grid)
    return vals[:len(grid)]

for k in range(NCOL * NROW):
    r, c = divmod(k, NCOL)
    x0 = (53 + 359.1 * c) / FW
    x1 = (359 + 359.1 * c) / FW
    ytop = 1 - (25 + 359.3 * r) / FH
    ybot = 1 - (332 + 359.3 * r) / FH
    n = "" if k == 0 else str(k + 1)
    has = k < len(titles)
    xa = dict(domain=[x0, x1], anchor="y" + n, range=X_RANGE,
              tickvals=[15.5, 16.0, 16.5, 17.0], ticktext=["15.5", "16.0", "16.5", "17.0"],
              ticks="inside", ticklen=4 * S, tickwidth=1 * S, tickcolor="black",
              showline=True, linecolor="black", linewidth=1.2 * S, mirror="ticks",
              showgrid=False, zeroline=False,
              tickfont=dict(family=FONT, size=10 * S, color="black"))
    ya = dict(domain=[ybot, ytop], anchor="x" + n,
              ticks="inside", ticklen=4 * S, tickwidth=1 * S, tickcolor="black",
              showline=True, linecolor="black", linewidth=1.2 * S, mirror="ticks",
              showgrid=False, zeroline=False,
              tickfont=dict(family=FONT, size=10 * S, color="black"))
    if has:
        ya.update(range=[0, Y_MAX], tickvals=[0, 2000, 4000, 6000, 8000],
                  ticktext=["0", "2000", "4000", "6000", "8000"])
        xa["title"] = dict(text="Time (min)", font=dict(family=FONT, size=10 * S, color="black"), standoff=2)
        ya["title"] = dict(text="Intensity (au)", font=dict(family=FONT, size=10 * S, color="black"), standoff=4)
    else:
        ya.update(range=[0, 1], tickvals=[0, 0.2, 0.4, 0.6, 0.8, 1.0],
                  ticktext=["0.0", "0.2", "0.4", "0.6", "0.8", "1.0"])
    layout["xaxis" + n] = xa
    layout["yaxis" + n] = ya
    xr, yr, yd = "x" + n, "y" + n, "y" + n + " domain"
    if not has:
        # empty panel: an invisible placeholder so that the axes are drawn
        fig.add_trace(go.Scatter(x=[None], y=[None], xaxis=xr, yaxis=yr, mode="lines",
                                 hoverinfo="skip", showlegend=False))
        continue

    L, R, H = win_left[k], win_right[k], box_h[k]
    # integration box
    shapes.append(dict(type="rect", xref=xr, yref=yr, x0=L, x1=R, y0=0, y1=H,
                       fillcolor="#00BFBF", line=dict(color="black", width=1 * S), layer="below"))
    # window bounds
    for xv in (L, R):
        shapes.append(dict(type="line", xref=xr, yref=yd, x0=xv, x1=xv, y0=0, y1=1,
                           line=dict(color="black", width=LW), layer="above"))
    # expected retention time
    shapes.append(dict(type="line", xref=xr, yref=yd, x0=green_t[k], x1=green_t[k], y0=0, y1=1,
                       line=dict(color="rgba(0,128,0,0.5)", width=LW), layer="above"))
    # apex
    if red_t[k] is not None:
        shapes.append(dict(type="line", xref=xr, yref=yd, x0=red_t[k], x1=red_t[k], y0=0, y1=1,
                           line=dict(color="#FF0000", width=LW), layer="above"))
    kind, vals = traces[k]
    grid = T_D if kind == "D" else T_F
    fig.add_trace(go.Scatter(x=grid, y=fit(vals, grid), xaxis=xr, yaxis=yr, mode="lines",
                             line=dict(color="black", width=LW), hoverinfo="skip",
                             connectgaps=False, cliponaxis=True))
    annotations.append(dict(text=titles[k], xref="paper", yref="paper", x=(x0 + x1) / 2, y=ytop,
                            xanchor="center", yanchor="bottom", yshift=1, showarrow=False,
                            font=dict(family=FONT, size=12 * S, color="black")))

layout["shapes"] = shapes
layout["annotations"] = annotations
fig.update_layout(**layout)
fig.write_html("out.html")
